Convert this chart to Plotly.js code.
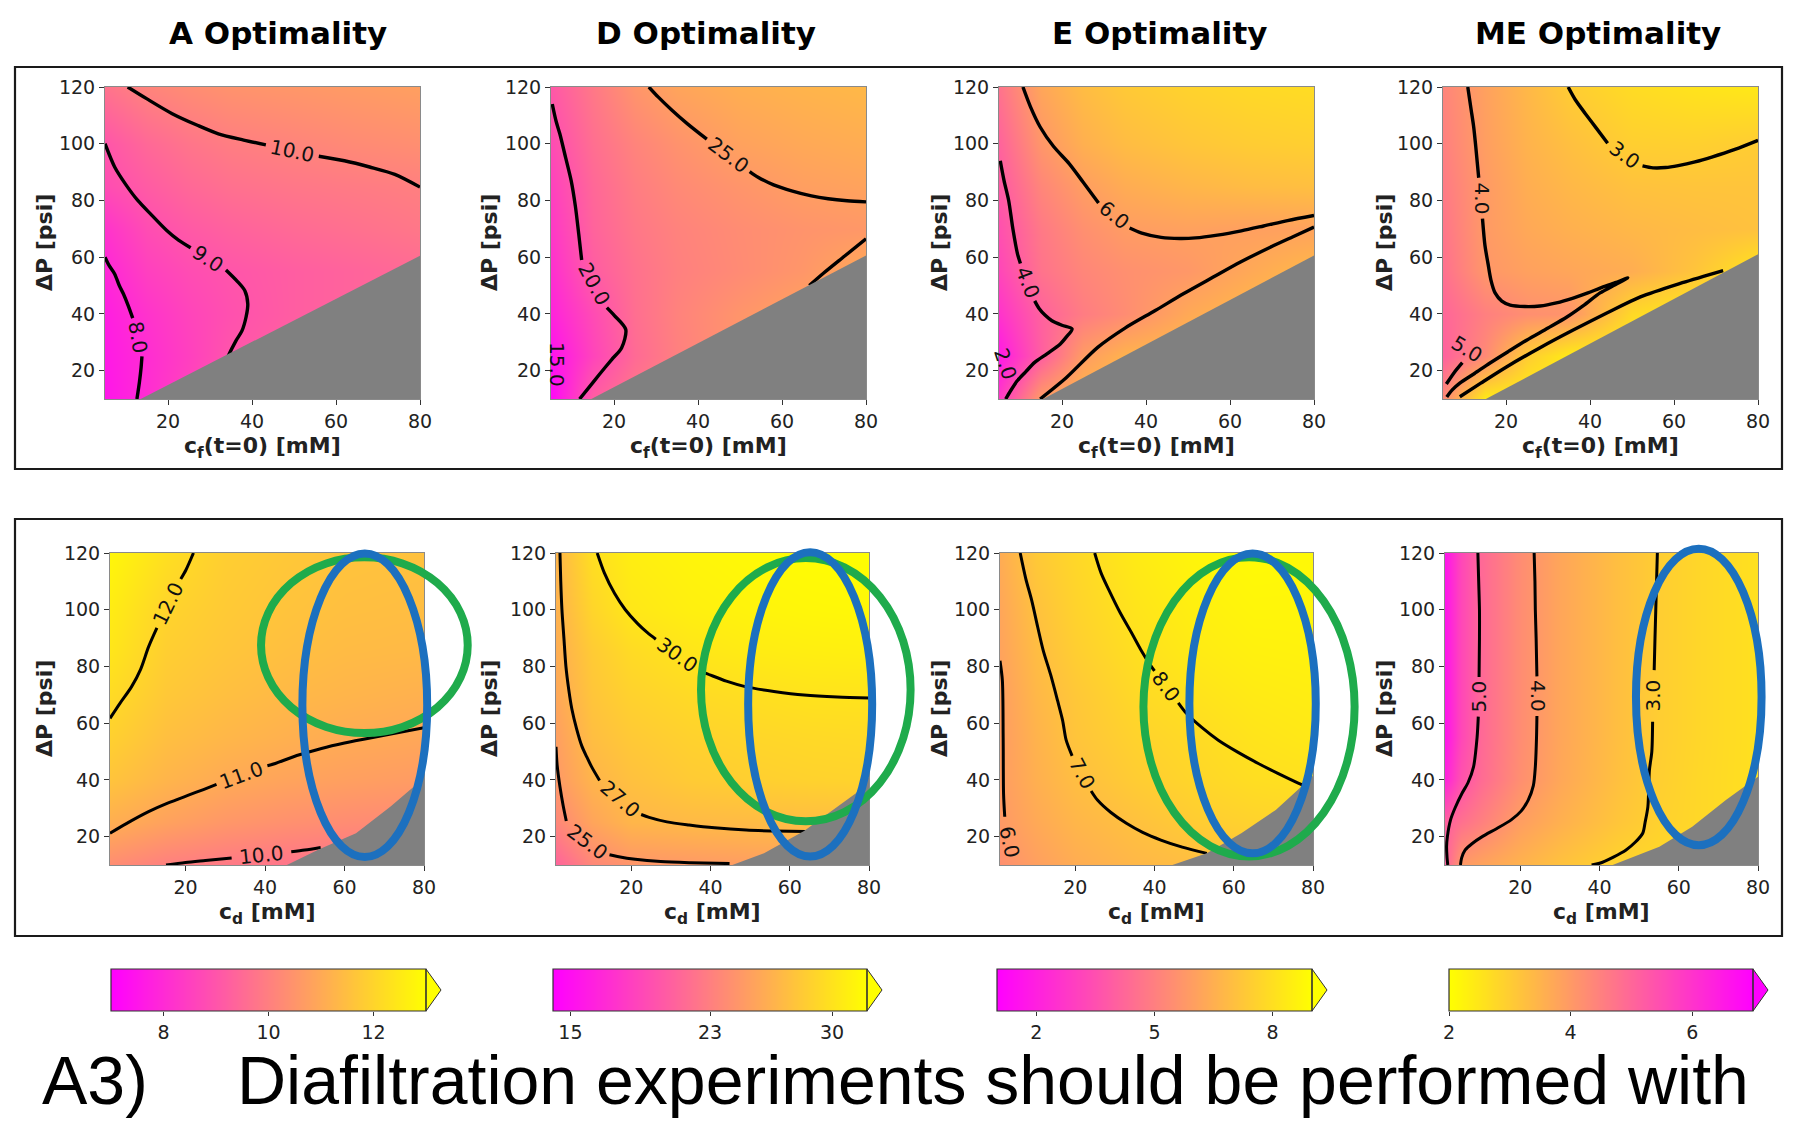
<!DOCTYPE html>
<html><head><meta charset="utf-8">
<script src="https://cdn.plot.ly/plotly-3.0.1.min.js"></script>
<style>html,body{margin:0;padding:0;background:#fff}#chart{width:1797px;height:1133px}</style>
</head><body><div id="chart"></div>
<script>
// ================= DATA =================
const panelTitles = ['A Optimality', 'D Optimality', 'E Optimality', 'ME Optimality'];
const caption1 = 'A3)';
const caption2 = 'Diafiltration experiments should be performed with';

// colour-bar ranges and ticks (one per column)
const cbRanges = [[7, 13], [14, 32], [1, 9], [2, 7]];
const cbTicks = [[8, 10, 12], [15, 23, 30], [2, 5, 8], [2, 4, 6]];

const xTicks = [20, 40, 60, 80];
const yTicks = [20, 40, 60, 80, 100, 120];

// ---- top row grids: x = cf(t=0) [mM], y = dP [psi] ----
const cfGrid = [5, 15, 25, 35, 50, 65, 80];
const dpGrid = [10, 25, 40, 55, 70, 85, 100, 120];
const zTopA = [
  [7.5, 8.05, 8.6, 9.1, 9.35, 9.5, 9.6],
  [7.6, 8.05, 8.5, 9.0, 9.3, 9.45, 9.55],
  [7.7, 8.2, 8.6, 8.9, 9.2, 9.35, 9.45],
  [7.9, 8.5, 8.8, 9.0, 9.2, 9.35, 9.5],
  [8.2, 8.8, 9.1, 9.3, 9.5, 9.65, 9.8],
  [8.8, 9.15, 9.45, 9.65, 9.8, 9.9, 10.0],
  [9.0, 9.45, 9.75, 9.95, 10.1, 10.25, 10.35],
  [9.7, 10.1, 10.3, 10.45, 10.55, 10.65, 10.75]];
const zTopD = [
  [14.5, 20.6, 22.5, 23.5, 24.5, 25.3, 26],
  [15.2, 18.8, 21.5, 23, 24.5, 25.3, 26],
  [16.5, 19.3, 21.8, 23.2, 24.5, 25.5, 26.5],
  [17.3, 20.5, 22, 23, 23.8, 24.6, 26],
  [18, 21, 22.4, 23.2, 23.9, 24.4, 24.7],
  [18.6, 21.3, 22.8, 23.7, 24.5, 25.2, 25.5],
  [19.3, 21.8, 23.3, 24.3, 25.4, 25.9, 26.2],
  [20.2, 22.5, 24.5, 25.6, 26.3, 26.7, 27]];
const zTopE = [
  [2.8, 5.9, 6.8, 7.0, 7.1, 7.2, 7.3],
  [1.8, 3.95, 5.9, 6.6, 6.9, 7.0, 7.1],
  [2.6, 4.05, 4.9, 5.4, 6.3, 6.8, 7.0],
  [3.2, 4.6, 5.2, 5.5, 5.75, 6.3, 6.8],
  [3.5, 4.8, 5.5, 5.9, 6.05, 6.0, 6.1],
  [3.8, 5.2, 5.95, 6.4, 6.7, 6.9, 7.0],
  [4.1, 5.7, 6.5, 6.9, 7.2, 7.4, 7.5],
  [4.6, 6.2, 6.9, 7.3, 7.6, 7.8, 7.9]];
const zTopME = [
  [4.3, 2.4, 2.3, 2.3, 2.3, 2.3, 2.3],
  [5.1, 4.3, 3.0, 2.4, 2.3, 2.3, 2.3],
  [5.0, 4.5, 4.2, 4.1, 2.75, 2.4, 2.4],
  [4.8, 4.05, 3.85, 3.75, 3.6, 3.15, 2.5],
  [4.7, 3.98, 3.7, 3.55, 3.4, 3.3, 3.2],
  [4.6, 3.98, 3.6, 3.4, 3.2, 3.15, 3.15],
  [4.5, 3.9, 3.5, 3.25, 2.95, 2.92, 3.0],
  [4.4, 3.85, 3.4, 3.0, 2.7, 2.55, 2.45]];

// ---- bottom row grids: x = cd [mM], y = dP [psi] ----
const cdGridA = [1, 15, 30, 45, 60, 80];
const cdGrid = [1, 10, 20, 35, 50, 65, 80];
const cdGridME = [1, 5, 10, 20, 30, 45, 55, 65, 80];
const dpGridME = [10, 25, 40, 55, 120];
const zBotA = [
  [10.3, 10.0, 9.85, 9.75, 9.7, 9.65],
  [11.1, 10.8, 10.55, 10.4, 10.3, 10.2],
  [11.6, 11.25, 11.0, 10.85, 10.75, 10.65],
  [11.9, 11.5, 11.3, 11.15, 11.03, 10.93],
  [12.15, 11.7, 11.5, 11.35, 11.25, 11.15],
  [12.4, 11.85, 11.65, 11.5, 11.4, 11.35],
  [12.55, 11.98, 11.75, 11.6, 11.5, 11.45],
  [12.8, 12.25, 11.85, 11.7, 11.6, 11.55]];
const zBotD = [
  [21, 23.5, 24.5, 24.8, 25.1, 25.3, 25.4],
  [23.5, 25.6, 26.8, 27.1, 27.2, 27.3, 27.4],
  [24.8, 26.7, 27.6, 28.3, 28.6, 28.8, 28.9],
  [25.2, 27.4, 28.2, 28.8, 29.1, 29.3, 29.4],
  [25.8, 27.9, 28.8, 29.4, 29.7, 30.0, 30.05],
  [26.2, 28.3, 29.4, 30.2, 30.6, 30.8, 30.9],
  [26.5, 29.0, 30.3, 30.9, 31.2, 31.4, 31.5],
  [26.8, 29.7, 30.8, 31.3, 31.6, 31.8, 31.9]];
const zBotE = [
  [5.5, 6.0, 6.4, 6.75, 6.95, 7.1, 7.2],
  [5.8, 6.3, 6.7, 7.05, 7.4, 7.6, 7.7],
  [5.9, 6.5, 6.95, 7.4, 7.7, 7.95, 8.05],
  [5.9, 6.6, 7.15, 7.6, 7.85, 8.15, 8.3],
  [5.95, 6.75, 7.25, 7.8, 8.1, 8.35, 8.45],
  [6.1, 6.9, 7.45, 8.0, 8.35, 8.55, 8.6],
  [6.2, 7.05, 7.6, 8.15, 8.5, 8.7, 8.7],
  [6.4, 7.3, 7.75, 8.35, 8.7, 8.85, 8.8]];
const zBotME = [
  [5.1, 4.0, 3.8, 3.5, 3.2, 2.85, 2.75, 2.7, 2.6],
  [5.1, 4.8, 4.5, 3.9, 3.55, 3.12, 2.9, 2.78, 2.6],
  [6.3, 5.4, 4.9, 4.2, 3.72, 3.22, 2.95, 2.78, 2.6],
  [6.6, 5.6, 4.95, 4.25, 3.75, 3.25, 2.97, 2.8, 2.6],
  [6.6, 5.6, 4.95, 4.25, 3.75, 3.25, 2.97, 2.8, 2.6]];

// ---- infeasible (grey) regions, [x, dP] ----
const grayTopA = [[13.5, 10], [80, 60.5], [80, 10]];
const grayTopD = [[14.6, 10], [80, 60.6], [80, 10]];
const grayTopE = [[15.5, 10], [80, 60.6], [80, 10]];
const grayTopME = [[15.2, 10], [80, 61], [80, 10]];
const grayBotA = [[45.5, 10], [53.5, 15.5], [62.9, 21.2], [71.6, 30.6], [77.4, 37.6], [80, 42.3], [80, 10]];
const grayBotD = [[45.5, 10], [53.5, 14.1], [63.6, 22], [70.9, 29.4], [76.7, 35.3], [80, 41.1], [80, 10]];
const grayBotE = [[44.5, 10], [53.2, 14.1], [61.9, 21.2], [70.6, 29.4], [76.4, 36.8], [80, 41.5], [80, 10]];
const grayBotME = [[43.3, 10], [55.1, 16.4], [63.4, 23.5], [71.9, 32.9], [80, 41.1], [80, 10]];

// ---- contour lines, [x, dP]; null = gap for inline label ----
const topA_10 = [[10.4,120],[15,115.8],[21,110.6],[27,106.5],[32,103.5],[38,101.3],[43.3,99.6],null,[55.9,95.6],[62,94],[68,91.8],[74,89.2],[80,84.7]];
const topA_9 = [[5,100],[7.3,91.8],[10,85.5],[12.8,80],[16,75],[19.7,69.4],[22.5,66],[25.4,63.3],null,[33.8,55.5],[36.5,51.5],[38.3,48.2],[39,43.5],[38.6,39],[37.6,34],[36.2,30.6],[34.2,24.7],[33.5,22]];
const topA_8 = [[5,60],[6,57],[7.3,54.1],[8.4,50],[9.4,47],[10.5,43],[11.6,38.5],null,[13.8,25],[13.6,21.2],[13.2,16],[12.6,10]];
const topD_25a = [[28.3,120],[30.5,116.5],[33.8,111.8],[37.5,107],[42.1,101.6],null,[52.3,90.2],[54.3,88.2],[58,85.5],[62.5,83.3],[67,81.6],[71,80.6],[75.5,79.9],[80,79.5]];
const topD_25b = [[66.5,50],[70,54.5],[75,60.5],[80,66.5]];
const topD_20 = [[5.3,114],[6.2,108],[7.1,103.5],[8.5,95],[9.8,87],[10.8,78],[11.6,68.2],[12.3,59],null,[18.3,42.2],[20.1,39.4],[22.8,34.5],[21.8,28],[19.5,24],[16.6,18.8],[14,14],[11.8,10]];
const topE_6a = [[10.7,120],[12.5,113],[14.8,105.9],[18,99],[21.7,93],[25,86.5],[28.7,79.1],null,[36.1,70.3],[39,68.5],[43.6,67],[48,66.6],[51.8,66.8],[57,67.8],[62.7,69.3],[68,71],[73.7,72.9],[80,74.7]];
const topE_6b = [[14.8,10],[21,17.5],[28.5,28.2],[35,35],[42.2,41.2],[49,47.2],[55.9,52.9],[62.5,58.3],[69.6,63.5],[75,67.2],[80,70.6]];
const topE_4 = [[5.3,94],[6.2,87],[7.3,80],[8.3,70],[9.4,61.2],[10.1,57.8],null,[13.5,44.6],[14.5,42],[16,39.5],[17.6,37.6],[20,36],[22.4,34.7],[21,31.8],[19.6,29.4],[16.5,26],[13.5,22.9],[11.3,19.5],[9.4,16.5],[7.8,13],[6.6,10]];
const topME_3a = [[34.8,120],[36.5,115.5],[38.9,110.6],[41.5,105.5],[44.2,100.2],null,[52.5,92.2],[55,91.5],[58,91.6],[61,92.3],[65,93.6],[69,95.3],[74.5,98],[80,101.2]];
const topME_3b = [[9,10.8],[14,15.6],[20.2,21.4],[28,28],[36,34.3],[44,40.3],[52,46],[62,51],[71.7,55.3]];
const topME_4 = [[10.9,120],[11.7,112],[12.3,106],[12.8,99],[13.5,88],null,[14.4,73.6],[15,64],[15.7,57.9],[16.4,52],[17.4,47.4],[19,44.5],[21,43.1],[24.5,42.6],[28.1,42.8],[32,43.9],[36,45.6],[39.5,47.4],[42.4,49.1],[46,51],[49,52.7],[46,50.3],[42.4,47.4],[38.5,43],[34.5,38.9],[30,35],[25,30.8],[20.5,26.7],[16.2,22.7],[12.5,19],[9,15.6],[7.2,13.2],[5.9,10.7]];
const topME_5 = [[9.6,22.8],[7.6,19.2],[5.8,15.3]];
const botA_12 = [[1,61.7],[3.5,67],[6.4,72.8],[8.7,79],[10.7,86.9],[12.8,93.6],null,[18.8,110.8],[20.1,114],[22,120]];
const botA_11 = [[1,21.2],[5,24.5],[10.7,28.8],[15.5,31.8],[20.9,34.7],[24.5,36.6],[27.8,38.4],null,[40.6,45],[42.6,45.8],[48,48.6],[54.2,51.1],[60,53],[65.8,54.6],[72,56.3],[80,58.4]];
const botA_10 = [[15.1,10],[20,10.9],[25,11.6],[31.6,12.5],null,[46.6,14.7],[50,15.3],[54,16.2]];
const botD_30 = [[11.4,120],[13.2,113],[15.8,105.7],[18.5,100],[21.6,95.1],[24,92],[26.2,89.6],null,[37.2,78.4],[39,77.5],[44,74.8],[49,72.8],[56,71.2],[63.6,69.9],[72,69.2],[80,68.9]];
const botD_27 = [[2,120],[2.2,110],[2.5,100],[3,90],[3.5,80],[4.2,72],[5,65],[6.2,58],[7.5,52],[8.8,48],[10,44.6],[12,39.8],null,[22.5,27.8],[24.5,26.8],[29,25.2],[34.6,24.1],[41,23.1],[49,22.3],[56,22],[64,21.8]];
const botD_25 = [[1,51.7],[1.3,45],[2,37.6],[2.8,31],[3.6,25.5],null,[14.5,13.6],[16.5,13],[21,12],[27.4,11.2],[35,10.8],[44.8,10.5]];
const botE_6 = [[1,82],[1.6,75],[1.8,55],[1.9,35],[2.2,27]];
const botE_7 = [[6.1,120],[7.5,111],[9,103.3],[10.5,94],[11.9,85.7],[13.8,77],[15.5,68.1],[16.8,61],[17.7,54],[19.2,48.5],null,[24,36.1],[25.6,32.9],[29,28.5],[32.9,24.7],[37,21.5],[41.6,18.8],[47,16.3],[53.2,14.1]];
const botE_8 = [[24.9,120],[26.5,113],[28.5,106.9],[31.3,99],[34.3,91.6],[36.5,86],[38.7,81],[40,78.4],null,[46,67.2],[48.1,63.4],[52,58.4],[56.1,54],[61,49.8],[66.2,45.8],[71,42.4],[76.4,38.8],[79,37.2]];
const botME_5 = [[9.3,120],[9.5,110],[9.7,100],[9.7,90],[9.6,76.3],null,[9.4,62.3],[9.1,55],[8.2,44.6],[6.8,39],[5.3,35.3],[3.5,30],[2.4,25.9],[1.6,20],[1.4,16.5],[1.5,13],[1.7,10]];
const botME_4 = [[23.5,120],[23.7,110],[23.8,100],[24,90],[24.2,76.5],null,[24.2,62.5],[24.1,55],[23.8,44.6],[23.3,38],[22,32.9],[20.2,29],[17.7,25.9],[14,22.8],[10.4,20],[7.8,17.5],[6.1,15.3],[5.2,12.5],[4.9,10]];
const botME_3 = [[54.6,120],[54.4,110],[54.2,100],[54,90],[53.8,78.7],null,[53.4,60.5],[53.2,50],[52.6,43.5],[52.2,30.5],[51.5,25],[50.9,21.2],[49,18],[46.7,15.3],[43.5,12.8],[40,10.6],[38,10]];

// ---- inline contour labels: [text, x, dP] ----
const topA_labels = [['10.0', 49.6, 97.6], ['9.0', 29.6, 59.4], ['8.0', 12.8, 31.8]];
const topD_labels = [['25.0', 47.2, 95.9], ['20.0', 15.3, 50.6], ['15.0', 6.4, 22]];
const topE_labels = [['6.0', 32.4, 74.7], ['4.0', 11.8, 51.2], ['2.0', 6.6, 22.5]];
const topME_labels = [['3.0', 48.3, 96.2], ['4.0', 14.2, 80.8], ['5.0', 10.6, 27.6]];
const botA_labels = [['12.0', 15.8, 102.2], ['11.0', 34.2, 41.7], ['10.0', 39.1, 13.6]];
const botD_labels = [['30.0', 31.7, 84], ['27.0', 17.2, 33.3], ['25.0', 8.9, 18]];
const botE_labels = [['6.0', 3.3, 18], ['7.0', 21.6, 42.3], ['8.0', 43, 72.8]];
const botME_labels = [['5.0', 9.5, 69.3], ['4.0', 24.3, 69.5], ['3.0', 53.4, 69.6]];

// ---- highlighted regions (ellipses) in bottom row: [panel, colour, x0, x1, dP0, dP1] ----
const ellipses = [
  [4, 'green', 39, 91, 56.5, 118.5],
  [4, 'blue', 49.4, 80.8, 12.8, 119.8],
  [5, 'green', 37.6, 90.5, 25.4, 118.2],
  [5, 'blue', 49.5, 80.8, 13, 120.3],
  [6, 'green', 37.2, 90.5, 13, 118.5],
  [6, 'blue', 48.8, 80.7, 14.1, 119.8],
  [7, 'blue', 49.2, 80.9, 17, 121.5]];

// ================= STYLE / LAYOUT =================
const W = 1797, H = 1133;
const X = px => px / W, Y = py => 1 - py / H;
const topXpx = [[105, 420], [551, 866], [999, 1314], [1443, 1758]];
const botXpx = [[110, 424], [556, 869], [1000, 1313], [1445, 1758]];
const topYpx = [87, 399], botYpx = [553, 865];
const cbXpx = [[111, 426], [553, 867], [997, 1312], [1449, 1753]];
const cbYpx = [969, 1011];
const titleXpx = [278, 706, 1159, 1598];
const yTitleXpx = [44, 489, 939, 1384];
const SPRING = [[0, 'rgb(255,0,255)'], [1, 'rgb(255,255,0)']];
const SPRING_R = [[0, 'rgb(255,255,0)'], [1, 'rgb(255,0,255)']];
const colorscales = [SPRING, SPRING, SPRING, SPRING_R];
const ellipseColors = {green: '#1fab4c', blue: '#1c70bf'};
const FONT = 'DejaVu Sans, Verdana, sans-serif';

const panels = [
  {col: 0, row: 0, gx: cfGrid, gy: dpGrid, z: zTopA, lines: [topA_10, topA_9, topA_8], gray: grayTopA, labels: topA_labels, angles: [12, 34, 80]},
  {col: 1, row: 0, gx: cfGrid, gy: dpGrid, z: zTopD, lines: [topD_25a, topD_25b, topD_20], gray: grayTopD, labels: topD_labels, angles: [37, 62, 90]},
  {col: 2, row: 0, gx: cfGrid, gy: dpGrid, z: zTopE, lines: [topE_6a, topE_6b, topE_4], gray: grayTopE, labels: topE_labels, angles: [39, 69, 72]},
  {col: 3, row: 0, gx: cfGrid, gy: dpGrid, z: zTopME, lines: [topME_3a, topME_3b, topME_4, topME_5], gray: grayTopME, labels: topME_labels, angles: [36, 90, 31]},
  {col: 0, row: 1, gx: cdGridA, gy: dpGrid, z: zBotA, lines: [botA_12, botA_11, botA_10], gray: grayBotA, labels: botA_labels, angles: [-64, -20, -6]},
  {col: 1, row: 1, gx: cdGrid, gy: dpGrid, z: zBotD, lines: [botD_30, botD_27, botD_25], gray: grayBotD, labels: botD_labels, angles: [36, 41, 37]},
  {col: 2, row: 1, gx: cdGrid, gy: dpGrid, z: zBotE, lines: [botE_6, botE_7, botE_8], gray: grayBotE, labels: botE_labels, angles: [78, 62, 53]},
  {col: 3, row: 1, gx: cdGridME, gy: dpGridME, z: zBotME, lines: [botME_5, botME_4, botME_3], gray: grayBotME, labels: botME_labels, angles: [-90, 90, -90]}
];

const splitXY = arr => ({x: arr.map(p => p ? p[0] : null), y: arr.map(p => p ? p[1] : null)});

const traces = [], annotations = [], shapes = [];
const layout = {
  width: W, height: H, margin: {l: 0, r: 0, t: 0, b: 0},
  paper_bgcolor: '#ffffff', plot_bgcolor: '#ffffff', showlegend: false,
  font: {family: FONT, color: '#222'}
};

panels.forEach((p, i) => {
  const n = i + 1, sfx = n === 1 ? '' : String(n);
  const xa = 'x' + sfx, ya = 'y' + sfx;
  const xpx = p.row === 0 ? topXpx[p.col] : botXpx[p.col];
  const ypx = p.row === 0 ? topYpx : botYpx;
  const xr = p.row === 0 ? [5, 80] : [1, 80];
  const axBase = {
    showgrid: false, zeroline: false, ticks: 'outside', ticklen: 5, tickwidth: 1, tickcolor: '#333',
    showline: true, mirror: true, linecolor: '#8a8a8a', linewidth: 1,
    tickfont: {family: FONT, size: 19, color: '#222'}, fixedrange: true
  };
  layout['xaxis' + sfx] = Object.assign({}, axBase, {domain: [X(xpx[0]), X(xpx[1])], range: xr, anchor: ya, tickvals: xTicks});
  layout['yaxis' + sfx] = Object.assign({}, axBase, {domain: [Y(ypx[1]), Y(ypx[0])], range: [10, 120], anchor: xa, tickvals: yTicks});

  traces.push({type: 'heatmap', x: p.gx, y: p.gy, z: p.z, zsmooth: 'best',
    colorscale: colorscales[p.col], zmin: cbRanges[p.col][0], zmax: cbRanges[p.col][1],
    showscale: false, hoverinfo: 'skip', xaxis: xa, yaxis: ya});
  p.lines.forEach(l => {
    const d = splitXY(l);
    traces.push({type: 'scatter', mode: 'lines', x: d.x, y: d.y, xaxis: xa, yaxis: ya,
      line: {color: '#000', width: p.row === 0 ? 3.4 : 3.0, shape: 'spline', smoothing: 0.8},
      hoverinfo: 'skip', connectgaps: false});
  });
  const g = splitXY(p.gray);
  traces.push({type: 'scatter', mode: 'lines', x: g.x.concat([g.x[0]]), y: g.y.concat([g.y[0]]), xaxis: xa, yaxis: ya,
    fill: 'toself', fillcolor: '#808080', line: {width: 0, color: '#808080'}, hoverinfo: 'skip'});
  p.labels.forEach((lab, k) => {
    annotations.push({xref: xa, yref: ya, x: lab[1], y: lab[2], text: lab[0], showarrow: false,
      textangle: p.angles[k], xanchor: 'center', yanchor: 'middle',
      font: {family: FONT, size: 20, color: '#111'}});
  });
  // axis titles
  const xt = p.row === 0 ? 'c<sub>f</sub>(t=0) [mM]' : 'c<sub>d</sub> [mM]';
  annotations.push({xref: 'paper', yref: 'paper', x: X((xpx[0] + xpx[1]) / 2), y: Y(ypx[1] + 48),
    text: xt, showarrow: false, xanchor: 'center', yanchor: 'middle', font: {family: FONT, size: 22, weight: 'bold', color: '#222'}});
  annotations.push({xref: 'paper', yref: 'paper', x: X(yTitleXpx[p.col]), y: Y((ypx[0] + ypx[1]) / 2),
    text: '\u0394P [psi]', textangle: -90, showarrow: false, xanchor: 'center', yanchor: 'middle',
    font: {family: FONT, size: 22, weight: 'bold', color: '#222'}});
});

// colour bars
cbRanges.forEach((r, c) => {
  const n = 9 + c;
  traces.push({type: 'heatmap', x: r, y: [0, 1], z: [r, r], zsmooth: 'best', colorscale: colorscales[c],
    zmin: r[0], zmax: r[1], showscale: false, hoverinfo: 'skip', xaxis: 'x' + n, yaxis: 'y' + n});
  layout['xaxis' + n] = {domain: [X(cbXpx[c][0]), X(cbXpx[c][1])], range: r, anchor: 'y' + n,
    tickvals: cbTicks[c], ticks: 'outside', ticklen: 4, tickcolor: '#333', showgrid: false, zeroline: false,
    showline: false, tickfont: {family: FONT, size: 19, color: '#222'}, fixedrange: true};
  layout['yaxis' + n] = {domain: [Y(cbYpx[1]), Y(cbYpx[0])], range: [0, 1], anchor: 'x' + n, visible: false, fixedrange: true};
  const x1 = cbXpx[c][1], tip = x1 + 15, ym = (cbYpx[0] + cbYpx[1]) / 2;
  shapes.push({type: 'path', xref: 'paper', yref: 'paper',
    path: `M ${X(x1)},${Y(cbYpx[0])} L ${X(tip)},${Y(ym)} L ${X(x1)},${Y(cbYpx[1])} Z`,
    fillcolor: c === 3 ? '#ff00ff' : '#ffff00', line: {color: '#333', width: 1}});
  shapes.push({type: 'rect', xref: 'paper', yref: 'paper', x0: X(cbXpx[c][0]), x1: X(x1),
    y0: Y(cbYpx[1]), y1: Y(cbYpx[0]), line: {color: '#333', width: 1.2}});
});

// row frames
shapes.push({type: 'rect', xref: 'paper', yref: 'paper', x0: X(15), x1: X(1782), y0: Y(469), y1: Y(67), line: {color: '#1a1a1a', width: 2.2}});
shapes.push({type: 'rect', xref: 'paper', yref: 'paper', x0: X(15), x1: X(1782), y0: Y(936), y1: Y(519), line: {color: '#1a1a1a', width: 2.2}});

// ellipses (data coordinates of bottom-row panels mapped onto the page)
ellipses.forEach(e => {
  const col = e[0] - 4, xp = botXpx[col];
  const mx = v => xp[0] + (v - 1) / 79 * (xp[1] - xp[0]);
  const my = v => botYpx[1] - (v - 10) / 110 * (botYpx[1] - botYpx[0]);
  shapes.push({type: 'circle', xref: 'paper', yref: 'paper', x0: X(mx(e[2])), x1: X(mx(e[3])),
    y0: Y(my(e[4])), y1: Y(my(e[5])), line: {color: ellipseColors[e[1]], width: 8}});
});

// column titles
panelTitles.forEach((t, c) => {
  annotations.push({xref: 'paper', yref: 'paper', x: X(titleXpx[c]), y: Y(32.5), text: t,
    showarrow: false, xanchor: 'center', yanchor: 'middle', font: {family: FONT, size: 31, weight: 'bold', color: '#000'}});
});

// caption
annotations.push({xref: 'paper', yref: 'paper', x: X(40), y: Y(1080), text: caption1, showarrow: false,
  xanchor: 'left', yanchor: 'middle', font: {family: 'Liberation Sans, Arial, sans-serif', size: 68, color: '#000'}});
annotations.push({xref: 'paper', yref: 'paper', x: X(235), y: Y(1080), text: caption2, showarrow: false,
  xanchor: 'left', yanchor: 'middle', font: {family: 'Liberation Sans, Arial, sans-serif', size: 68, color: '#000'}});

layout.annotations = annotations;
layout.shapes = shapes;

Plotly.newPlot('chart', traces, layout, {displayModeBar: false, staticPlot: true});
</script></body></html>
